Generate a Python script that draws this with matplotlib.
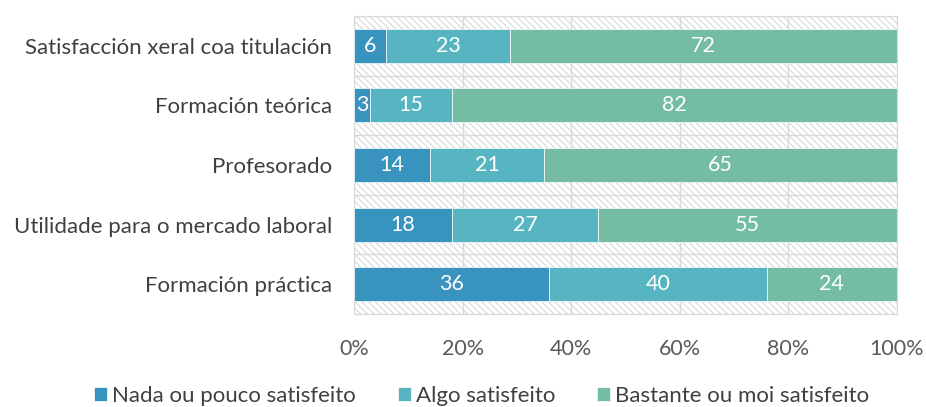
import matplotlib.pyplot as plt
from matplotlib.patches import Rectangle
import numpy as np

plt.rcParams['font.family'] = ['Lato', 'DejaVu Sans']
plt.rcParams['hatch.color'] = '#d9d9d9'
plt.rcParams['hatch.linewidth'] = 0.8

categories = ['Satisfacción xeral coa titulación', 'Formación teórica', 'Profesorado',
              'Utilidade para o mercado laboral', 'Formación práctica']
nada = [6, 3, 14, 18, 36]
algo = [23, 15, 21, 27, 40]
bastante = [72, 82, 65, 55, 24]
series_names = ['Nada ou pouco satisfeito', 'Algo satisfeito', 'Bastante ou moi satisfeito']
colors = ['#3993bf', '#57b5c1', '#75bca5']

fig = plt.figure(figsize=(9.26, 4.07), dpi=100)
ax = fig.add_axes([354 / 926, 1 - 314 / 407, 543 / 926, 298 / 407])

# fondo rayado
ax.add_patch(Rectangle((0, 0), 1, 1, transform=ax.transAxes, facecolor='white',
                       edgecolor='#d9d9d9', hatch='\\\\\\\\\\', lw=0, zorder=0))

y = np.arange(len(categories))
totals = np.array(nada) + np.array(algo) + np.array(bastante)
data = [np.array(nada) / totals, np.array(algo) / totals, np.array(bastante) / totals]
raw = [nada, algo, bastante]
left = np.zeros(len(categories))
for vals, rv, c, name in zip(data, raw, colors, series_names):
    ax.barh(y, vals, left=left, height=0.57, color=c, label=name, zorder=3,
            edgecolor='white', linewidth=0.5)
    for yi, (l, v, r) in enumerate(zip(left, vals, rv)):
        ax.text(l + v / 2, yi, str(r), ha='center', va='center', color='white',
                fontsize=15.5, zorder=4)
    left += vals

ax.set_xlim(0, 1)
ax.set_ylim(len(categories) - 0.5, -0.5)
ax.set_yticks(y)
ax.set_yticklabels(categories, fontsize=16, color='#404040')
ax.set_xticks(np.linspace(0, 1, 6))
ax.set_xticklabels([f'{int(v)}%' for v in np.linspace(0, 100, 6)], fontsize=15.5, color='#595959')
ax.set_yticks(np.arange(-0.5, len(categories), 1), minor=True)
ax.tick_params(axis='both', which='both', length=0)
ax.tick_params(axis='x', pad=18)
ax.tick_params(axis='y', pad=16)
ax.grid(axis='x', which='major', color='#d9d9d9', lw=1, zorder=1)
ax.grid(axis='y', which='minor', color='#d9d9d9', lw=1, zorder=1)
ax.set_axisbelow(True)
for s in ax.spines.values():
    s.set_color('#d9d9d9')

fig.legend(loc='center', bbox_to_anchor=(0.52, 1 - 396 / 407), ncol=3, frameon=False,
           fontsize=16, handlelength=0.6, handleheight=0.6, handletextpad=0.2,
           columnspacing=1.9, labelcolor='#404040')

fig.savefig('out.png', dpi=100)
